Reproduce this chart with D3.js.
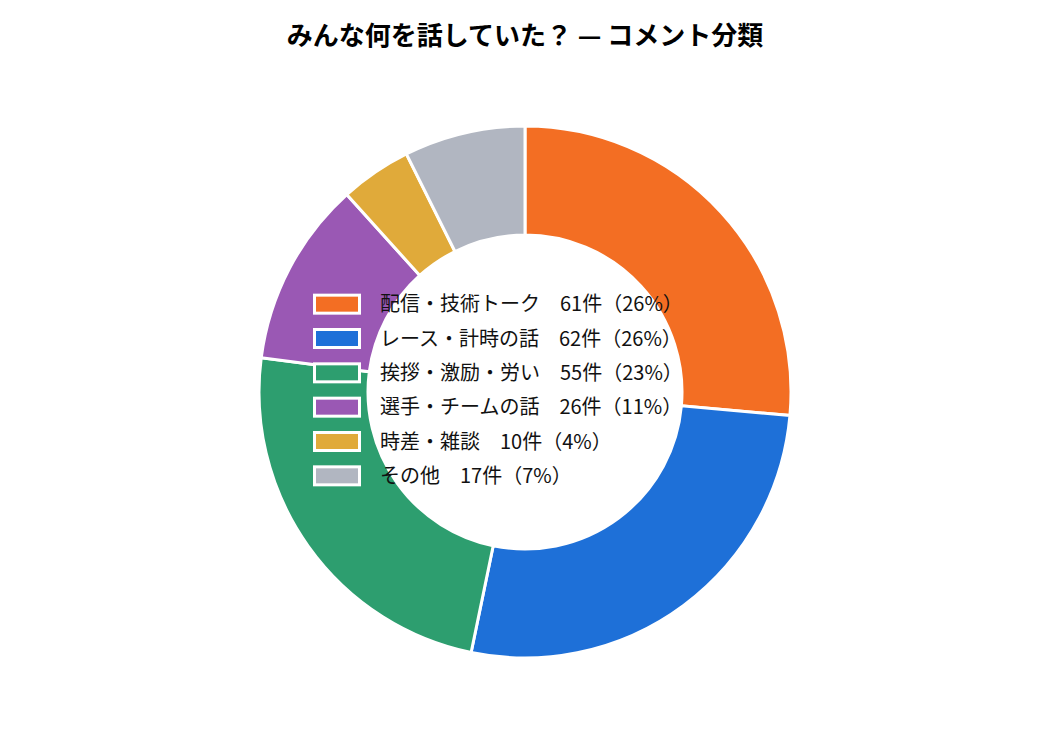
<!DOCTYPE html>
<html><head><meta charset="utf-8">
<script src="https://cdn.jsdelivr.net/npm/d3@7"></script>
<style>body{margin:0;background:#fff}</style>
</head><body><div id="chart"></div>
<script>
// 値は画像から読み取り
const categories = ["配信・技術トーク", "レース・計時の話", "挨拶・激励・労い", "選手・チームの話", "時差・雑談", "その他"];
const counts = [61, 62, 55, 26, 10, 17];
const percents = [26, 26, 23, 11, 4, 7];
const colors = ["#f36e23", "#1e70d8", "#2d9e6f", "#9a58b4", "#e0aa3a", "#b1b6c1"];

const width = 1050, height = 750, cx = 525, cy = 392;
const outerRadius = 266, innerRadius = 157;
const font = "'Noto Sans CJK JP', sans-serif";

const svg = d3.select("#chart").append("svg")
  .attr("width", width).attr("height", height);

svg.append("text")
  .attr("x", cx).attr("y", 45)
  .attr("text-anchor", "middle")
  .attr("font-family", font).attr("font-weight", "bold").attr("font-size", 26)
  .text("みんな何を話していた？ — コメント分類");

const data = categories.map((c, i) => ({name: c, value: counts[i], pct: percents[i], color: colors[i]}));

let pie = d3.pie().sort(null).value(d => d.value);
let arc = d3.arc().innerRadius(innerRadius).outerRadius(outerRadius);

svg.append("g")
  .attr("transform", "translate(" + cx + "," + cy + ")")
  .selectAll("path")
  .data(pie(data))
  .enter().append("path")
  .attr("d", arc)
  .attr("fill", d => d.data.color)
  .attr("stroke", "#fff")
  .attr("stroke-width", 3);

const y = d3.scaleBand().domain(categories).range([287, 493]);

const legend = svg.append("g").selectAll("g")
  .data(data).enter().append("g")
  .attr("transform", d => "translate(313," + y(d.name) + ")");

legend.append("rect")
  .attr("x", 1.5).attr("y", y.bandwidth() / 2 - 9)
  .attr("width", 45).attr("height", 18)
  .attr("fill", d => d.color)
  .attr("stroke", "#fff").attr("stroke-width", 3);

legend.append("text")
  .attr("x", 67).attr("y", y.bandwidth() / 2)
  .attr("dy", "0.36em")
  .attr("font-family", font).attr("font-size", 20).attr("fill", "#111")
  .text(d => d.name + "　" + d.value + "件（" + d.pct + "%）");
</script>
</body></html>
